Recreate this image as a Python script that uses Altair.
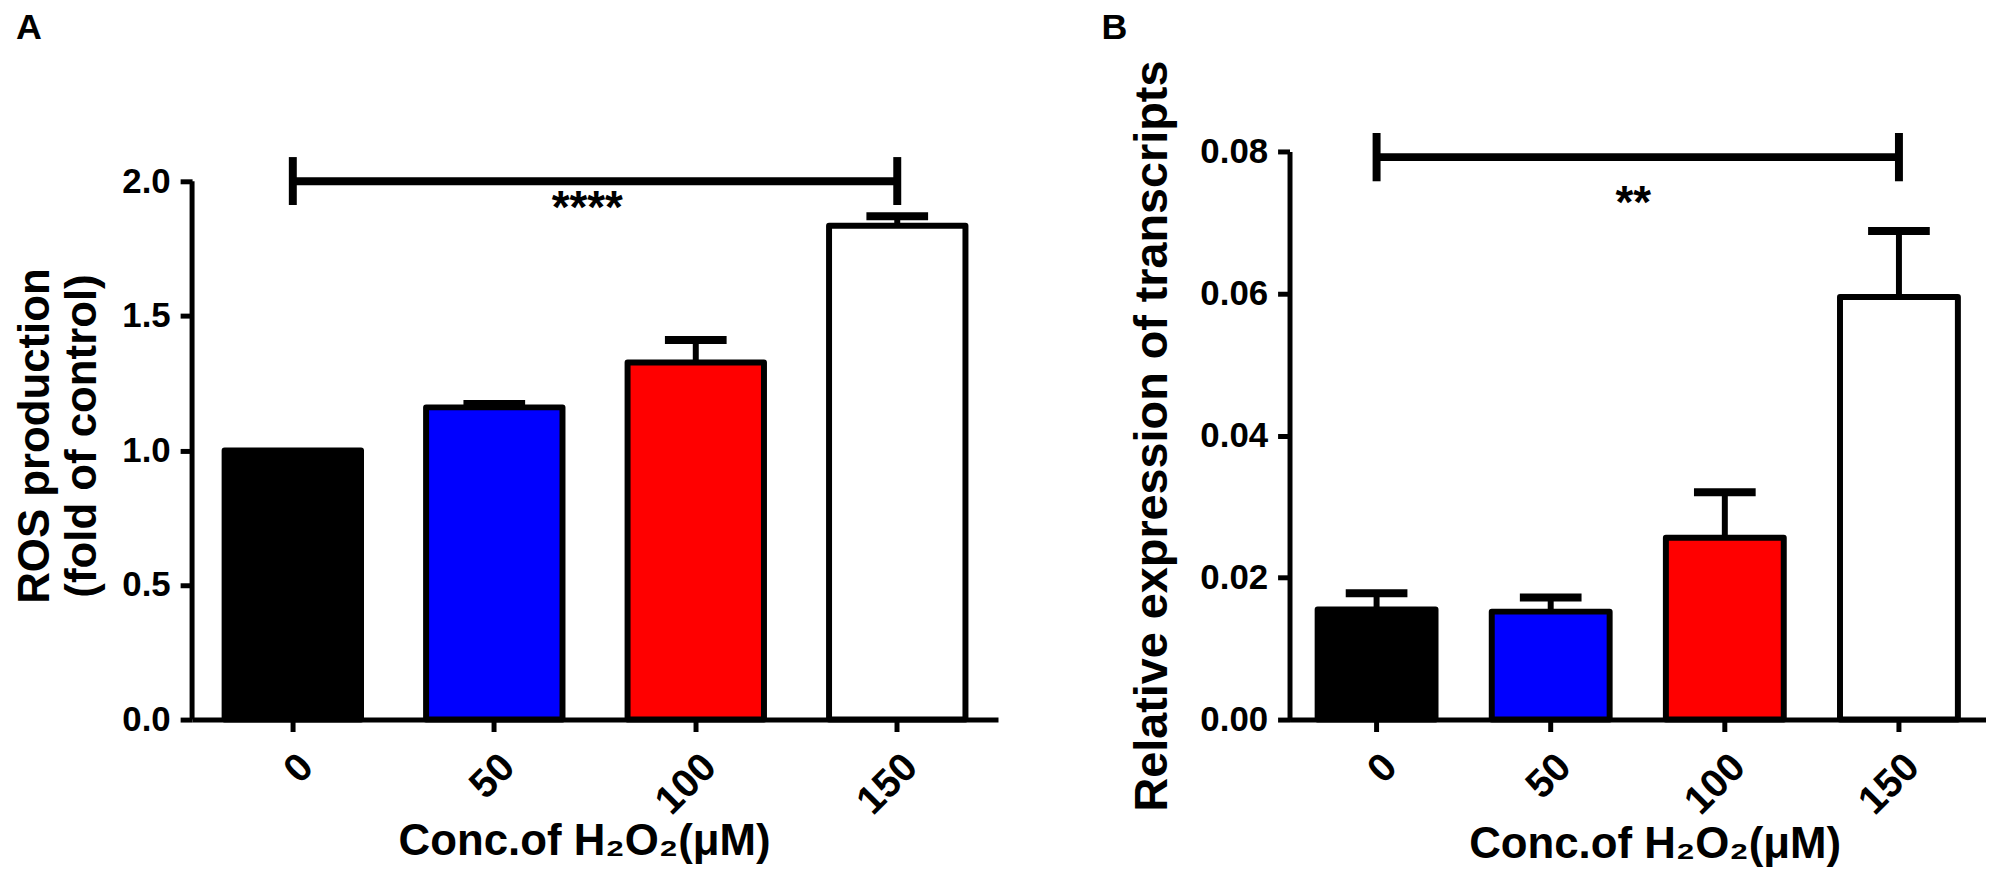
import altair as alt
import pandas as pd

FONT = "Liberation Sans"

conc = ["0", "50", "100", "150"]
fill_colors = ["#000000", "#0000ff", "#ff0000", "#ffffff"]

# Panel A: ROS production (fold of control)
ros_mean = [1.0, 1.16, 1.327, 1.835]
ros_upper = [1.0, 1.173, 1.41, 1.87]
ros_ticks = [0.0, 0.5, 1.0, 1.5, 2.0]

# Panel B: relative expression of transcripts
expr_mean = [0.0155, 0.0152, 0.0256, 0.0595]
expr_upper = [0.0178, 0.0172, 0.0320, 0.0688]
expr_ticks = [0.0, 0.02, 0.04, 0.06, 0.08]

# significance brackets
sig_a = {"from": "0", "to": "150", "y": 2.0, "lo": 1.912, "hi": 2.09, "label": "****", "label_y": 1.895}
sig_b = {"from": "0", "to": "150", "y": 0.0792, "lo": 0.0758, "hi": 0.0826, "label": "**", "label_y": 0.0726}

X_TITLE = "Conc.of H\u2082O\u2082(\u03bcM)"
H = 571


def panel(mean, upper, ticks, fmt, dmax, width, ytitle, ytitle_x, ytitle_size,
          xtitle_x, xtitle_y, sig, text_dx, letter, letter_dx, axis_rule_top=None):
    df = pd.DataFrame({"conc": conc, "mean": mean, "upper": upper, "color": fill_colors})
    yscale = alt.Scale(domain=[0, dmax], nice=False, zero=True)
    xscale = alt.Scale(domain=conc, paddingInner=0.323, paddingOuter=0.1615)
    xaxis = alt.Axis(title=X_TITLE, labelAngle=-45, labelFontSize=40, titleFontSize=44,
                     titleX=xtitle_x, titleY=xtitle_y, titleBaseline="alphabetic", labelPadding=15)
    yaxis = alt.Axis(title=ytitle, values=ticks, format=fmt, titleX=ytitle_x,
                     titleBaseline="middle", titleLineHeight=47, titleFontSize=ytitle_size,
                     domain=axis_rule_top is None, labelPadding=10)
    x_plain = alt.X("conc:N", scale=xscale)

    bars = alt.Chart(df).mark_bar(stroke="black", strokeWidth=6, strokeJoin="round").encode(
        x=alt.X("conc:N", scale=xscale, axis=xaxis),
        y=alt.Y("mean:Q", scale=yscale, axis=yaxis),
        fill=alt.Fill("color:N", scale=None),
    )
    err_df = df[df["upper"] > df["mean"]]
    err = alt.Chart(err_df).mark_rule(color="black", strokeWidth=6).encode(
        x=x_plain, y=alt.Y("mean:Q", scale=yscale), y2="upper:Q"
    )
    cap = alt.Chart(err_df).mark_tick(color="black", thickness=8, size=62, opacity=1).encode(
        x=x_plain, y=alt.Y("upper:Q", scale=yscale)
    )
    br_df = pd.DataFrame({"from": [sig["from"]], "to": [sig["to"]], "y": [sig["y"]],
                          "label": [sig["label"]], "label_y": [sig["label_y"]],
                          "letter": [letter]})
    bracket = alt.Chart(br_df).mark_rule(color="black", strokeWidth=8).encode(
        x=alt.X("from:N", scale=xscale), x2="to:N",
        y=alt.Y("y:Q", scale=yscale)
    )
    ends_df = pd.DataFrame({"conc": [sig["from"], sig["to"]], "lo": [sig["lo"]] * 2, "hi": [sig["hi"]] * 2})
    ends = alt.Chart(ends_df).mark_rule(color="black", strokeWidth=8).encode(
        x=x_plain, y=alt.Y("lo:Q", scale=yscale), y2="hi:Q"
    )
    stars = alt.Chart(br_df).mark_text(font=FONT, fontSize=46, fontWeight="bold", color="black",
                                       dx=text_dx, baseline="middle").encode(
        x=alt.X("from:N", scale=xscale), y=alt.Y("label_y:Q", scale=yscale), text="label:N"
    )
    panel_letter = alt.Chart(br_df).mark_text(font=FONT, fontSize=36, fontWeight="bold", color="black",
                                              align="left", baseline="alphabetic").encode(
        x=alt.value(letter_dx), y=alt.value(-113), text="letter:N"
    )
    layers = [bars, err, cap, bracket, ends, stars, panel_letter]
    if axis_rule_top is not None:
        ax_df = pd.DataFrame({"lo": [0.0], "hi": [axis_rule_top]})
        axis_rule = alt.Chart(ax_df).mark_rule(color="black", strokeWidth=5).encode(
            x=alt.value(0), y=alt.Y("lo:Q", scale=yscale), y2="hi:Q"
        )
        layers.append(axis_rule)
    return alt.layer(*layers).properties(width=width, height=H)


panel_a = panel(ros_mean, ros_upper, ros_ticks, ".1f", H / 270.5, 810,
                ["ROS production", "(fold of control)"], -157, 44, 394, 136,
                sig_a, 296, "A", -177, axis_rule_top=2.0)
panel_b = panel(expr_mean, expr_upper, expr_ticks, ".2f", 0.08, 700,
                "Relative expression of transcripts", -138, 47, 367, 139,
                sig_b, 258, "B", -189)

chart = alt.hconcat(panel_a, panel_b, spacing=104).properties(
    padding={"left": 6, "top": 0, "right": 0, "bottom": 0}
).configure_view(stroke=None).configure_axis(
    grid=False,
    domainColor="black", domainWidth=5,
    tickColor="black", tickWidth=5, tickSize=12,
    labelFont=FONT, labelFontSize=35, labelFontWeight="bold", labelColor="black",
    titleFont=FONT, titleFontSize=44, titleFontWeight="bold", titleColor="black",
)

chart.save("out.html", embed_options={"renderer": "svg", "actions": False})
